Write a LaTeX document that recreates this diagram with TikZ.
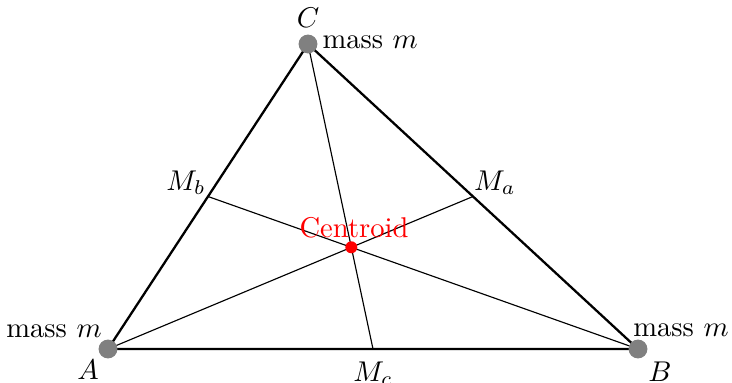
\documentclass[tikz,border=0pt]{standalone}
\begin{document}
\begin{tikzpicture}[x={(0.35pt,0)},y={(0,-0.35pt)},
  side/.style={thick,black},
  median/.style={black,line width=0.4pt},
  massdot/.style={circle,fill=gray,inner sep=0pt,minimum size=6.6pt},
  cdot/.style={circle,fill=red,inner sep=0pt,minimum size=4.2pt},
  lbl/.style={inner sep=0pt}]
\useasboundingbox (0,0) rectangle (732,383);
\coordinate (A) at (108,349);
\coordinate (B) at (638,349);
\coordinate (C) at (308,44);
\coordinate (Ma) at (473,196.5);
\coordinate (Mb) at (208,196.5);
\coordinate (Mc) at (373,349);
\coordinate (G) at (351.3,247.3);
\draw[side] (A) -- (B) -- (C) -- cycle;
\draw[median] (A) -- (Ma);
\draw[median] (B) -- (Mb);
\draw[median] (C) -- (Mc);
\node[massdot] (dA) at (A) {};
\node[massdot] (dB) at (B) {};
\node[massdot] (dC) at (C) {};
\node[cdot] (dG) at (G) {};
\node[lbl] (lA) at (88,370) {$A$};
\node[lbl] (lB) at (660,372) {$B$};
\node[lbl] (lC) at (308,18) {$C$};
\node[lbl,anchor=west] (mC) at (322,42) {mass $m$};
\node[lbl] (mA) at (54,331) {mass $m$};
\node[lbl] (mB) at (681,330) {mass $m$};
\node[lbl] (lMa) at (495,183) {$M_a$};
\node[lbl] (lMb) at (186,183) {$M_b$};
\node[lbl] (lMc) at (373,374) {$M_c$};
\node[lbl,text=red] (lG) at (354,228) {Centroid};
\end{tikzpicture}
\end{document}
